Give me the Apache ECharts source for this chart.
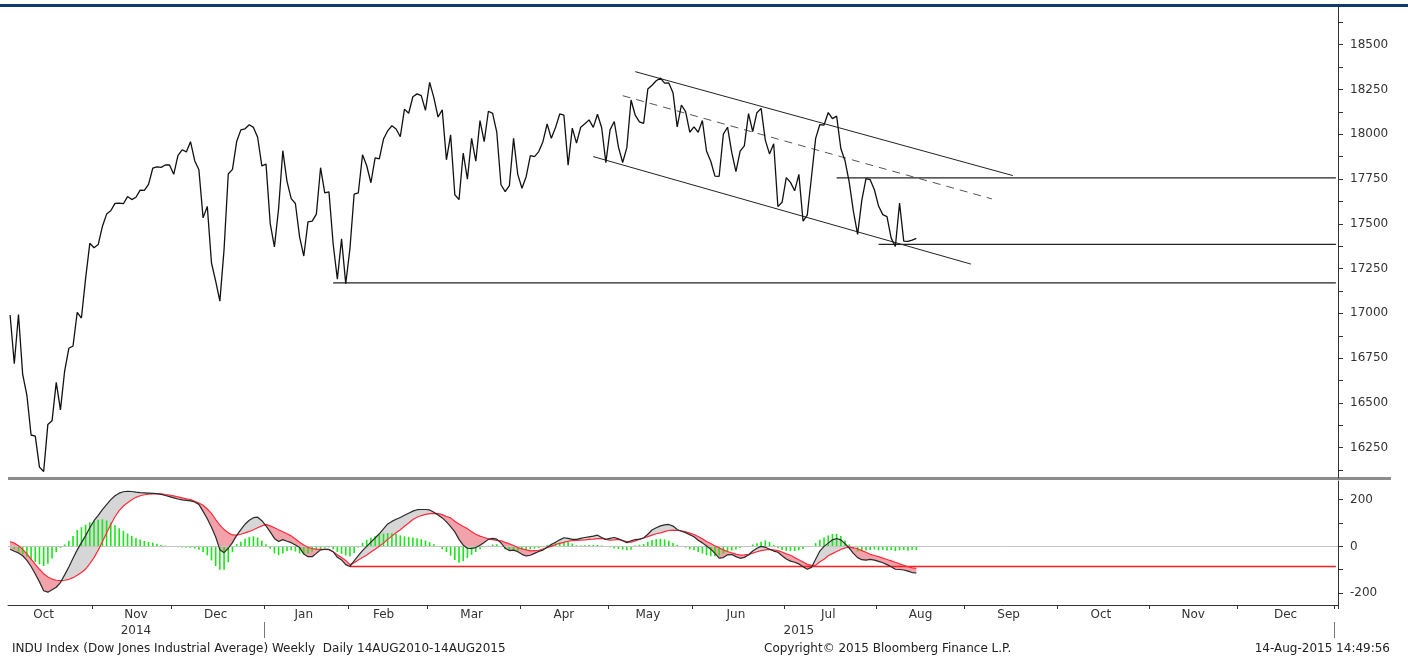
<!DOCTYPE html>
<html>
<head>
<meta charset="utf-8">
<title>INDU Index</title>
<script src="https://cdn.jsdelivr.net/npm/echarts@6/dist/echarts.min.js"></script>
<style>
  html, body { margin: 0; padding: 0; background: #fff; }
  #chart { width: 1408px; height: 662px; }
</style>
</head>
<body>
<div id="chart"></div>
<script>
// exchange holidays inside the traded range
const holidays = ['2014-11-27', '2014-12-25', '2015-01-01', '2015-01-19', '2015-02-16', '2015-04-03', '2015-05-25', '2015-07-03'];
const firstDay = '2014-10-06';
const lastTraded = '2015-08-14';
const lastDay = '2016-01-01';

// daily closes
const close2014Oct = [16991, 16719, 16994, 16659, 16544, 16321, 16315, 16142, 16117, 16380, 16400, 16615, 16461, 16678, 16805, 16818, 17006, 16974, 17195, 17391];
const close2014Nov = [17366, 17384, 17485, 17554, 17573, 17614, 17615, 17612, 17652, 17635, 17648, 17688, 17686, 17720, 17810, 17818, 17815, 17828, 17828];
const close2014Dec = [17776, 17880, 17913, 17901, 17958, 17852, 17801, 17533, 17597, 17281, 17180, 17068, 17357, 17778, 17804, 17959, 18024, 18030, 18053, 18038, 17983, 17823];
const close2015Jan = [17833, 17501, 17371, 17585, 17908, 17737, 17640, 17613, 17427, 17320, 17511, 17515, 17554, 17813, 17672, 17678, 17387, 17191, 17416, 17165];
const close2015Feb = [17361, 17666, 17673, 17885, 17824, 17729, 17868, 17862, 17973, 18019, 18047, 18029, 17986, 18140, 18117, 18209, 18225, 18215, 18133];
const close2015Mar = [18289, 18204, 18096, 18136, 17857, 17996, 17662, 17635, 17895, 17749, 17977, 17849, 18076, 17959, 18128, 18116, 18011, 17718, 17679, 17713, 17977, 17776];
const close2015Apr = [17698, 17763, 17881, 17875, 17903, 17958, 18057, 17977, 18037, 18113, 18106, 17827, 18034, 17950, 18039, 18058, 18080, 18038, 18111, 18036, 17841];
const close2015May = [18024, 18071, 17928, 17842, 17925, 18191, 18106, 18069, 18060, 18252, 18273, 18298, 18313, 18285, 18286, 18232, 18041, 18163, 18126, 18011];
const close2015Jun = [18041, 18011, 18076, 17905, 17849, 17766, 17765, 18000, 18039, 17898, 17791, 17905, 17935, 18115, 18015, 18120, 18144, 17967, 17890, 17947, 17596, 17620];
const close2015Jul = [17758, 17731, 17684, 17776, 17515, 17548, 17760, 17977, 18054, 18051, 18121, 18087, 18101, 17920, 17852, 17732, 17569, 17441, 17631, 17752, 17746, 17690];
const close2015Aug = [17599, 17551, 17540, 17420, 17373, 17615, 17403, 17402, 17409, 17418];

// MACD panel
const macdLine = [
  -12, -21, -28, -40, -60, -86, -118, -152, -190, -196,
  -186, -175, -155, -122, -88, -51, -15, 16, 46, 80,
  110, 133, 157, 179, 200, 217, 228, 234, 236, 235,
  232, 230, 229, 228, 227, 226, 223, 218, 213, 208,
  203, 199, 197, 195, 190, 180, 150, 118, 82, 40,
  -14, -27, -8, 16, 47, 72, 95, 112, 123, 125,
  110, 88, 62, 34, 21, 29, 22, 16, 6, -5,
  -33, -44, -44, -30, -15, -13, -13, -23, -47, -58,
  -78, -86, -62, -40, -18, 0, 18, 36, 54, 75,
  96, 107, 116, 124, 133, 142, 151, 157, 158, 158,
  156, 146, 134, 122, 105, 85, 62, 30, 5, -8,
  -9, -5, 5, 17, 30, 34, 31, 15, -8, -18,
  -16, -23, -34, -41, -38, -30, -22, -16, -4, 8,
  18, 28, 37, 34, 30, 30, 34, 38, 41, 44,
  48, 38, 30, 34, 38, 32, 24, 16, 24, 29,
  31, 36, 52, 70, 80, 88, 92, 94, 87, 72,
  65, 59, 50, 41, 26, 15, 2, -12, -30, -50,
  -48, -36, -35, -44, -51, -47, -37, -20, -8, 0,
  -4, -12, -20, -25, -40, -54, -63, -68, -75, -87,
  -98, -90, -55, -20, 0, 14, 28, 34, 28, 12,
  -7, -30, -48, -57, -59, -56, -59, -64, -70, -78,
  -87, -98, -99, -101, -106, -112, -114
];
const signalLine = [
  21, 14, 3, -13, -32, -55, -77, -98, -117, -131,
  -140, -145, -147, -145, -141, -134, -124, -112, -97, -74,
  -48, -16, 20, 57, 94, 127, 153, 173, 187, 200,
  210, 217, 221, 224, 225, 226, 225, 222, 220, 216,
  212, 208, 204, 200, 193, 186, 176, 160, 141, 115,
  91, 72, 58, 49, 48, 52, 58, 64, 71, 80,
  88, 94, 88, 80, 71, 63, 54, 45, 32, 18,
  6, -4, -9, -12, -13, -13, -14, -23, -36, -48,
  -60, -78, -70, -58, -48, -37, -24, -12, 1, 14,
  30, 44, 58, 71, 86, 100, 115, 125, 132, 137,
  140, 141, 140, 136, 128, 122, 108, 96, 85, 76,
  63, 52, 44, 38, 32, 29, 26, 24, 17, 11,
  4, -5, -10, -15, -19, -18, -17, -11, -5, 0,
  8, 13, 17, 22, 25, 26, 27, 28, 30, 31,
  33, 34, 30, 27, 28, 30, 26, 20, 18, 23,
  30, 36, 42, 48, 54, 58, 63, 68, 70, 68,
  67, 62, 57, 51, 42, 33, 21, 12, 2, -6,
  -15, -22, -28, -33, -37, -36, -34, -29, -23, -18,
  -15, -13, -15, -18, -24, -32, -38, -48, -57, -67,
  -77, -81, -81, -66, -55, -40, -31, -22, -13, -7,
  -3, -6, -10, -18, -25, -34, -39, -44, -50, -56,
  -62, -68, -75, -81, -87, -92, -94
];
const macdHist = [
  -4, -12, -22, -33, -44, -55, -67, -77, -84, -74,
  -52, -25, -6, 8, 24, 45, 70, 82, 93, 103,
  109, 114, 116, 111, 102, 90, 78, 67, 55, 45,
  36, 29, 23, 19, 16, 11, 6, 3, 0, -2,
  -4, -5, -5, -6, -9, -14, -24, -38, -60, -84,
  -100, -100, -68, -25, 10, 20, 33, 40, 43, 38,
  24, 9, -10, -30, -38, -30, -20, -17, -22, -30,
  -33, -30, -22, -15, -10, -6, -5, -12, -24, -32,
  -39, -43, -28, -5, 15, 28, 37, 43, 50, 55,
  57, 56, 53, 47, 43, 41, 38, 35, 31, 25,
  18, 9, 0, -12, -24, -40, -58, -70, -63, -50,
  -36, -24, -12, -4, 3, 8, 9, 2, -12, -18,
  -20, -19, -16, -15, -13, -10, -7, -4, 5, 11,
  14, 16, 20, 22, 12, 5, 4, 5, 6, 6,
  6, 4, 1, -4, -9, -11, -14, -17, -14, 4,
  7, 10, 20, 27, 31, 33, 30, 24, 15, 6,
  0, -5, -12, -17, -24, -30, -38, -42, -42, -39,
  -31, -24, -18, -13, -7, -2, 1, 8, 13, 20,
  26, 19, 6, -8, -15, -19, -20, -20, -17, -11,
  -3, 0, 14, 28, 38, 47, 53, 54, 45, 25,
  8, -8, -22, -21, -18, -15, -13, -17, -15, -18,
  -16, -20, -17, -15, -19, -14, -16
];

// hand drawn studies on the price pane
const upperChannel = [['2015-05-11', 18349], ['2015-09-16', 17769]];
const lowerChannel = [['2015-04-27', 17875], ['2015-09-02', 17275]];
const midChannel = [['2015-05-06', 18215], ['2015-09-09', 17639]];
const levelLines = [
  { from: '2015-07-20', value: 17756 },
  { from: '2015-08-03', value: 17385 },
  { from: '2015-01-27', value: 17170 }
];
const waveLabels = [
  { name: '1', value: ['2015-04-28', 17670] },
  { name: '2', value: ['2015-05-19', 18396] },
  { name: '3', value: ['2015-06-12', 17754] },
  { name: '4', value: ['2015-06-24', 18229] },
  { name: '5', value: ['2015-06-29', 17484] },
  { name: '6', value: ['2015-07-16', 18182] },
  { name: '7', value: ['2015-07-22', 17371] },
  { name: '8', value: ['2015-08-03', 17864] }
];
const levelLabels = [
  { name: '17,752', value: ['2015-11-10', 17912] },
  { name: '17,360', value: ['2015-11-05', 17488] },
  { name: '17,165', value: ['2015-11-04', 17062] }
];
const macdSupport = { from: '2015-02-02', value: -86 };

// axes
const priceLabelValues = [16250, 16500, 16750, 17000, 17250, 17500, 17750, 18000, 18250, 18500];
const priceTickValues = [16125, 16250, 16375, 16500, 16625, 16750, 16875, 17000, 17125, 17250, 17375, 17500,
  17625, 17750, 17875, 18000, 18125, 18250, 18375, 18500, 18625];
const macdLabelValues = [-200, 0, 200];
const macdTickValues = [-200, -100, 0, 100, 200];
const monthNames = ['Jan', 'Feb', 'Mar', 'Apr', 'May', 'Jun', 'Jul', 'Aug', 'Sep', 'Oct', 'Nov', 'Dec'];
const monthLabelDays = ['2014-10-16', '2014-11-17', '2014-12-15', '2015-01-15', '2015-02-12', '2015-03-16',
  '2015-04-16', '2015-05-14', '2015-06-15', '2015-07-16', '2015-08-17', '2015-09-15', '2015-10-15',
  '2015-11-16', '2015-12-16'];
const yearSpans = [
  { text: '2014', first: '2014-10-06', last: '2014-12-31' },
  { text: '2015', first: '2015-01-02', last: '2015-12-31' }
];

const closePrice = [].concat(close2014Oct, close2014Nov, close2014Dec, close2015Jan, close2015Feb,
  close2015Mar, close2015Apr, close2015May, close2015Jun, close2015Jul, close2015Aug);

// trading days up to the last print, plain weekdays after that
const dates = [];
let day = new Date(firstDay + 'T00:00:00Z');
const endDay = new Date(lastDay + 'T00:00:00Z');
while (day <= endDay) {
  const s = day.toISOString().slice(0, 10);
  const wd = day.getUTCDay();
  if (wd !== 0 && wd !== 6 && !(s <= lastTraded && holidays.includes(s))) dates.push(s);
  day = new Date(day.getTime() + 86400000);
}
const lastCat = dates[dates.length - 1];

const monthStart = new Set();
dates.forEach((d, i) => { if (i > 0 && d.slice(0, 7) !== dates[i - 1].slice(0, 7)) monthStart.add(i); });
const labelIdx = new Set(monthLabelDays.map(d => dates.indexOf(d)));

const bandBase = macdLine.map((m, i) => Math.min(m, signalLine[i]));
const bandUp = macdLine.map((m, i) => Math.max(m - signalLine[i], 0));
const bandDown = macdLine.map((m, i) => Math.max(signalLine[i] - m, 0));

const font = 'DejaVu Sans';
const axisColor = '#333';

function segment(data, color, width, type) {
  return {
    type: 'line', xAxisIndex: 0, yAxisIndex: 0, data: data, symbol: 'none', silent: true,
    lineStyle: { color: color, width: width, type: type || 'solid' }, z: 3
  };
}

const series = [
  {
    type: 'line', name: 'INDU', xAxisIndex: 0, yAxisIndex: 0, data: closePrice, symbol: 'none',
    lineStyle: { color: '#111', width: 1.3 }, z: 4
  },
  segment(upperChannel, '#222', 1),
  segment(lowerChannel, '#222', 1),
  segment(midChannel, '#555', 1, [8, 6]),
  ...levelLines.map(l => segment([[l.from, l.value], [lastCat, l.value]], '#222', 1.2)),
  {
    type: 'scatter', xAxisIndex: 0, yAxisIndex: 0, data: waveLabels, symbolSize: 1, silent: true,
    itemStyle: { opacity: 0 },
    label: { show: true, position: 'inside', formatter: '{b}', color: '#111', fontSize: 23, fontFamily: 'Liberation Sans' }
  },
  {
    type: 'scatter', xAxisIndex: 0, yAxisIndex: 0, data: levelLabels, symbolSize: 1, silent: true,
    itemStyle: { opacity: 0 },
    label: { show: true, position: 'inside', formatter: '{b}', color: '#111', fontSize: 27, fontFamily: 'Liberation Sans' }
  },
  // MACD pane
  {
    type: 'bar', xAxisIndex: 1, yAxisIndex: 1, data: macdHist, barWidth: 1.6, silent: true,
    itemStyle: { color: '#19e619' }, z: 3,
    markLine: {
      silent: true, symbol: 'none', label: { show: false },
      lineStyle: { color: '#c4c4c4', width: 1, type: 'solid' },
      data: [{ yAxis: 0 }]
    }
  },
  {
    type: 'line', xAxisIndex: 1, yAxisIndex: 1, data: bandBase, stack: 'up', stackStrategy: 'all',
    symbol: 'none', lineStyle: { opacity: 0 }, silent: true, z: 2
  },
  {
    type: 'line', xAxisIndex: 1, yAxisIndex: 1, data: bandUp, stack: 'up', stackStrategy: 'all',
    symbol: 'none', lineStyle: { opacity: 0 }, areaStyle: { color: '#d6d6d6', opacity: 1 }, silent: true, z: 2
  },
  {
    type: 'line', xAxisIndex: 1, yAxisIndex: 1, data: bandBase, stack: 'down', stackStrategy: 'all',
    symbol: 'none', lineStyle: { opacity: 0 }, silent: true, z: 2
  },
  {
    type: 'line', xAxisIndex: 1, yAxisIndex: 1, data: bandDown, stack: 'down', stackStrategy: 'all',
    symbol: 'none', lineStyle: { opacity: 0 }, areaStyle: { color: '#f2a2aa', opacity: 1 }, silent: true, z: 2
  },
  {
    type: 'line', xAxisIndex: 1, yAxisIndex: 1, data: signalLine, symbol: 'none', silent: true,
    lineStyle: { color: '#ff2a3c', width: 1.2 }, z: 5
  },
  {
    type: 'line', xAxisIndex: 1, yAxisIndex: 1, data: macdLine, symbol: 'none', silent: true,
    lineStyle: { color: '#2a2a2a', width: 1.2 }, z: 6
  },
  {
    type: 'line', xAxisIndex: 1, yAxisIndex: 1, symbol: 'none', silent: true,
    data: [[macdSupport.from, macdSupport.value], [lastCat, macdSupport.value]],
    lineStyle: { color: '#ff1f1f', width: 1.5 }, z: 4
  }
];

const option = {
  animation: false,
  backgroundColor: '#fff',
  grid: [
    { left: 8, right: 70, top: 7, height: 471 },
    { left: 8, right: 70, top: 481, height: 124 }
  ],
  xAxis: [
    { type: 'category', gridIndex: 0, data: dates, boundaryGap: true, show: false },
    {
      type: 'category', gridIndex: 1, data: dates, boundaryGap: true,
      axisLine: { show: true, onZero: false, lineStyle: { color: axisColor, width: 1 } },
      axisTick: { show: true, length: 4, interval: i => monthStart.has(i), lineStyle: { color: axisColor } },
      axisLabel: {
        interval: i => labelIdx.has(i), margin: 4, color: axisColor, fontSize: 12, fontFamily: font,
        formatter: v => monthNames[parseInt(v.slice(5, 7), 10) - 1]
      },
      splitLine: { show: false }
    }
  ],
  yAxis: [
    {
      type: 'value', gridIndex: 0, position: 'right', min: 16081, max: 18710,
      axisLine: { show: true, lineStyle: { color: axisColor, width: 1 } },
      axisTick: { show: true, length: 5, customValues: priceTickValues, lineStyle: { color: axisColor } },
      axisLabel: { customValues: priceLabelValues, formatter: v => String(v), margin: 12, color: axisColor, fontSize: 12, fontFamily: font },
      splitLine: { show: false }
    },
    {
      type: 'value', gridIndex: 1, position: 'right', min: -251, max: 280,
      axisLine: { show: true, lineStyle: { color: axisColor, width: 1 } },
      axisTick: { show: true, length: 5, customValues: macdTickValues, lineStyle: { color: axisColor } },
      axisLabel: { customValues: macdLabelValues, formatter: v => String(v), margin: 12, color: axisColor, fontSize: 12, fontFamily: font },
      splitLine: { show: false }
    }
  ],
  series: series
};

const chart = echarts.init(document.getElementById('chart'));
chart.setOption(option);

// frame, footer and year row
const px = d => chart.convertToPixel({ xAxisIndex: 1 }, d);
const band = px(dates[1]) - px(dates[0]);
const graphics = [
  { type: 'rect', shape: { x: 0, y: 4, width: 1408, height: 3 }, style: { fill: '#0e3a6c' }, silent: true },
  { type: 'rect', shape: { x: 8, y: 477, width: 1383, height: 3 }, style: { fill: '#8c8c8c' }, silent: true },
  { type: 'text', x: 12, y: 649, style: { text: 'INDU Index (Dow Jones Industrial Average) Weekly  Daily 14AUG2010-14AUG2015', font: '12px "DejaVu Sans"', fill: '#222', verticalAlign: 'middle' }, silent: true },
  { type: 'text', x: 764, y: 649, style: { text: 'Copyright\u00a9 2015 Bloomberg Finance L.P.', font: '12px "DejaVu Sans"', fill: '#222', verticalAlign: 'middle' }, silent: true },
  { type: 'text', x: 1390, y: 649, style: { text: '14-Aug-2015 14:49:56', font: '12px "DejaVu Sans"', fill: '#222', align: 'right', verticalAlign: 'middle' }, silent: true }
];
yearSpans.forEach(y => {
  const left = px(y.first) - band / 2;
  const right = px(y.last) + band / 2;
  graphics.push({ type: 'text', x: (left + right) / 2, y: 631, style: { text: y.text, font: '12px "DejaVu Sans"', fill: axisColor, align: 'center', verticalAlign: 'middle' }, silent: true });
  const sepX = Math.round(right) + 0.5;
  graphics.push({ type: 'line', shape: { x1: sepX, y1: 622, x2: sepX, y2: 638 }, style: { stroke: '#777', lineWidth: 1 }, silent: true });
});
chart.setOption({ graphic: graphics });
</script>
</body>
</html>
